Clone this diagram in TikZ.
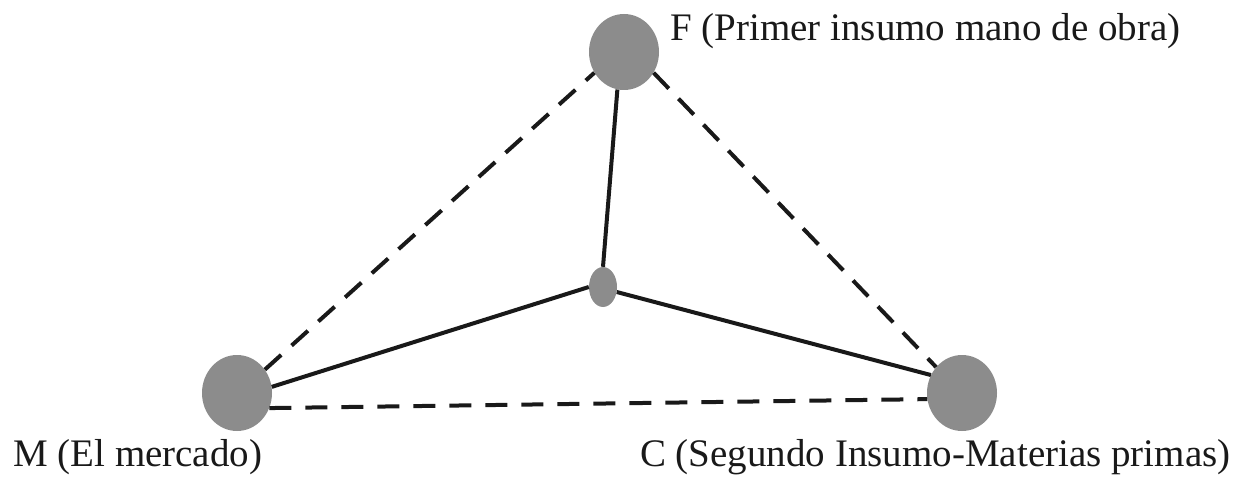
\documentclass[tikz,border=0pt]{standalone}
\usepackage{fontspec}
\setmainfont{Liberation Serif}
\usetikzlibrary{shapes.geometric}
\definecolor{nodegray}{RGB}{140,140,140}
\definecolor{linecol}{RGB}{25,25,25}
\tikzset{
  bignode/.style={ellipse, fill=nodegray, draw=none, minimum width=70pt, minimum height=76pt, inner sep=0pt},
  smallnode/.style={ellipse, fill=nodegray, draw=none, minimum width=28pt, minimum height=40pt, inner sep=0pt},
  solidline/.style={draw=linecol, line width=4pt},
  dashline/.style={draw=linecol, line width=4pt, dash pattern=on 22pt off 14pt},
  lbl/.style={font=\fontsize{39}{46}\selectfont, text=linecol, inner sep=0pt}
}
\begin{document}
\begin{tikzpicture}[x=1pt,y=-1pt]
\useasboundingbox (0,0) rectangle (1247,478);
\node[bignode] (F) at (624,52) {};
\node[bignode] (M) at (237,393) {};
\node[bignode] (C) at (962,393) {};
\node[smallnode] (O) at (603,287) {};
\draw[dashline] (M.40) -- (F.215);
\draw[dashline] (F.-35) -- (C.135);
\draw[dashline] (M.-25) -- (C.190);
\draw[solidline] (F.-100) -- (O.north);
\draw[solidline] (O.west) -- (M.10);
\draw[solidline] (O.-20) -- (C.150);
\node[lbl, anchor=base west] (Fl) at (670,41) {F (Primer insumo mano de obra)};
\node[lbl, anchor=base west] (Ml) at (13,466) {M (El mercado)};
\node[lbl, anchor=base west] (Cl) at (640,466) {C (Segundo Insumo-Materias primas)};
\end{tikzpicture}
\end{document}
